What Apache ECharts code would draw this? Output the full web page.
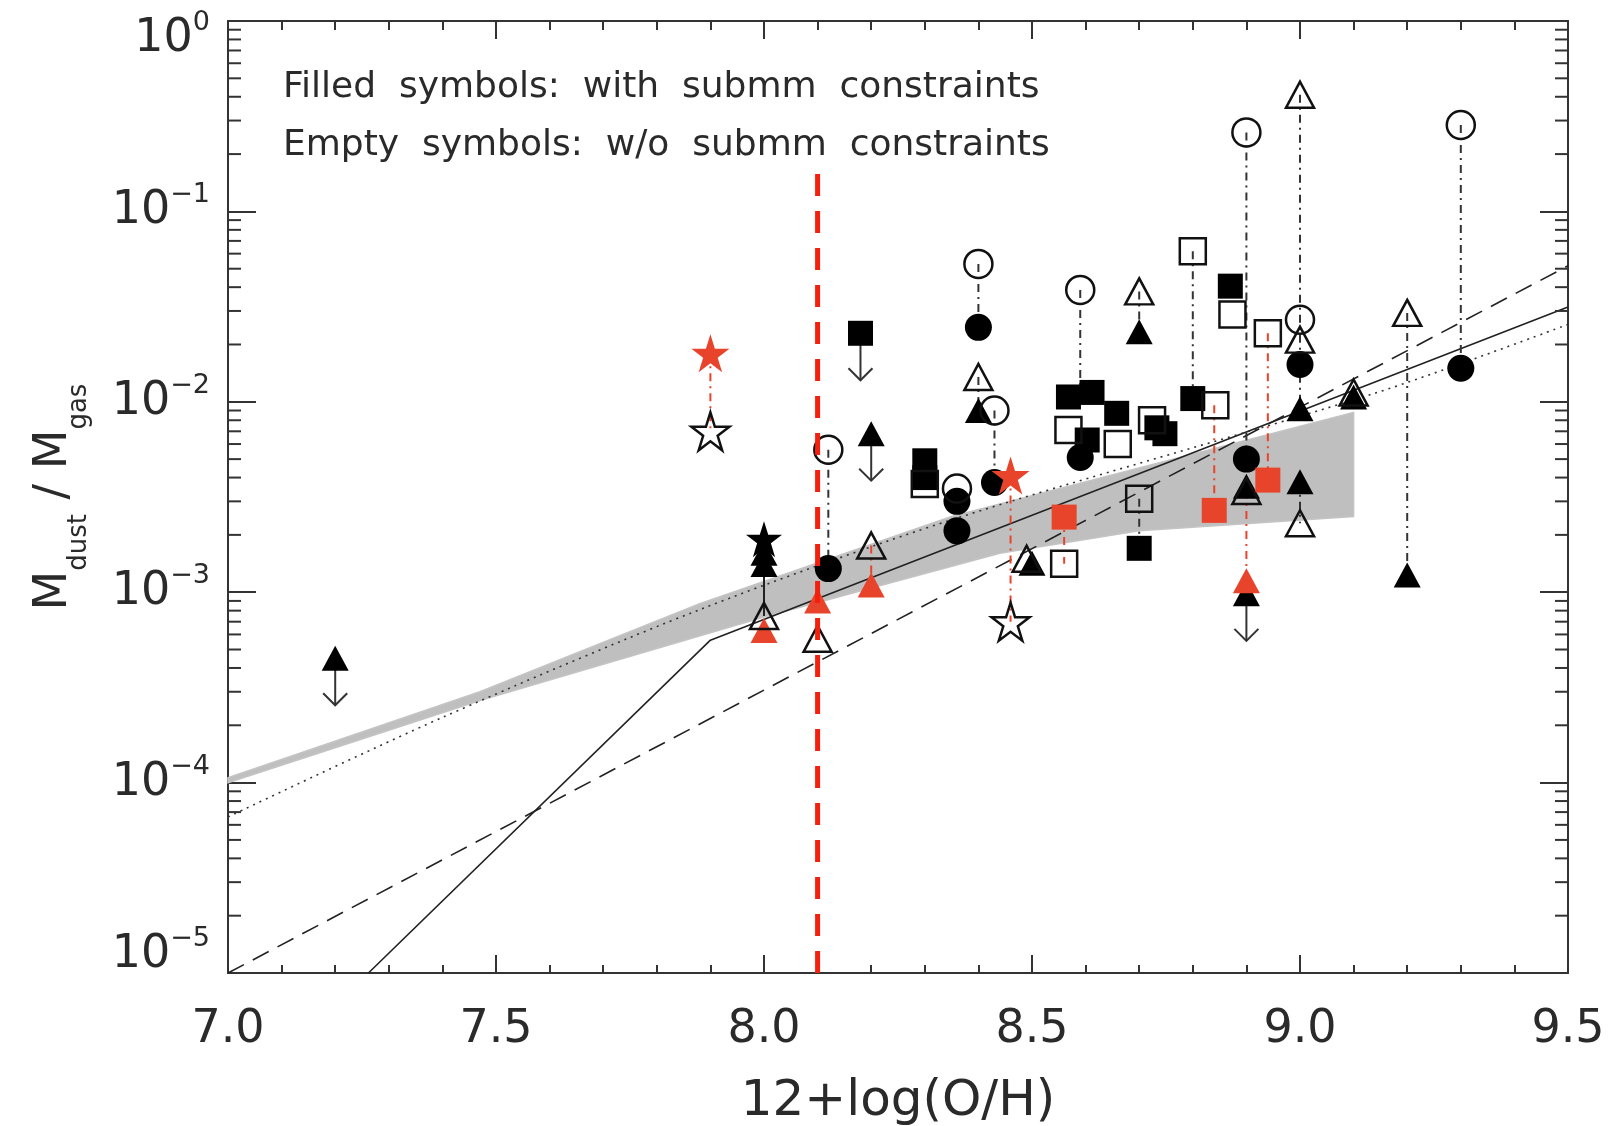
<!DOCTYPE html>
<html><head><meta charset="utf-8">
<script src="https://cdn.jsdelivr.net/npm/echarts@6/dist/echarts.min.js"></script>
<style>html,body{margin:0;padding:0;background:#fff}#c{width:1614px;height:1126px}</style>
</head><body><div id="c"></div>
<script>
// ---------- data ----------
const xTickLabels = ['7.0', '7.5', '8.0', '8.5', '9.0', '9.5'];
const yTickExponents = ['0', '\u22121', '\u22122', '\u22123', '\u22124', '\u22125'];

const filledCircles = [[8.12,0.00133],[8.40,0.0246],[8.43,0.00377],[8.36,0.0030],[8.36,0.0021],[8.59,0.0051],[8.90,0.0050],[9.00,0.0157],[9.30,0.0150]];
const emptyCircles  = [[8.12,0.0056],[8.40,0.053],[8.43,0.0090],[8.36,0.0035],[8.59,0.0387],[8.90,0.26],[9.00,0.027],[9.30,0.284]];
const filledSquares = [[8.18,0.0229],[8.30,0.0049],[8.30,0.0040],[8.568,0.0106],[8.612,0.0112],[8.658,0.0087],[8.603,0.0063],[8.733,0.0073],[8.748,0.0068],[8.70,0.0017],[8.80,0.0104],[8.87,0.0405]];
const emptySquares  = [[8.30,0.0037],[8.56,0.00141],[8.568,0.0071],[8.66,0.0060],[8.724,0.0080],[8.70,0.0031],[8.80,0.0618],[8.842,0.0096],[8.874,0.0287],[8.94,0.0229]];
const filledTriangles = [[7.20,0.00045],[8.00,0.0016],[8.00,0.0014],[8.20,0.0068],[8.40,0.0090],[8.50,0.00142],[8.70,0.0233],[8.90,0.0036],[8.90,0.00098],[9.00,0.0092],[9.00,0.0038],[9.10,0.0106],[9.20,0.00123]];
const emptyTriangles  = [[8.00,0.00075],[8.10,0.00057],[8.20,0.00176],[8.40,0.0135],[8.49,0.0015],[8.70,0.0380],[8.90,0.0034],[9.00,0.41],[9.00,0.0212],[9.00,0.0023],[9.10,0.0112],[9.20,0.0293]];
const filledStars = [[8.00,0.0019]];
const emptyStars  = [[7.90,0.0070],[8.46,0.00070]];
const redStars     = [[7.90,0.018],[8.46,0.0041]];
const redTriangles = [[8.00,0.00063],[8.10,0.00090],[8.20,0.00109],[8.90,0.00115]];
const redSquares   = [[8.56,0.00248],[8.84,0.00269],[8.94,0.00388]];

// links between the same object with / without submm: [x, y1, y2]
const blackLinks = [[8.12,0.0056,0.00133],[8.40,0.053,0.0246],[8.40,0.0135,0.0090],[8.43,0.0090,0.00377],[8.59,0.0387,0.0112],[8.70,0.0380,0.0233],[8.70,0.0031,0.0017],[8.80,0.0618,0.0104],[8.90,0.26,0.0050],[9.00,0.41,0.0092],[9.00,0.0038,0.0023],[9.20,0.0293,0.00123],[9.30,0.284,0.0150]];
const redLinks   = [[7.90,0.018,0.0070],[8.46,0.0041,0.00070],[8.20,0.00176,0.00109],[8.56,0.00248,0.00141],[8.84,0.0096,0.00269],[8.94,0.0229,0.00388],[8.90,0.0034,0.00115]];
const solidLinks = [[8.00,0.0019,0.00075]];

// upper limits (down arrows)
const upperLimits = [[7.20,0.00045],[8.18,0.0229],[8.20,0.0068],[8.90,0.00098]];

// model curves
const solidModelX = [7.262, 7.90, 9.50];
const solidModelY = [1e-5, 5.6e-4, 0.0315];
const dashedModelX = [7.00, 9.50];
const dashedModelY = [1e-5, 0.0518];
const dottedModelX = [7.00, 7.40, 7.88, 8.35, 9.14, 9.50];
const dottedModelY = [6.6e-5, 2.2e-4, 8.1e-4, 2.4e-3, 0.0111, 0.0255];
const bandTopX = [7.00, 7.47, 7.88, 8.35, 9.10];
const bandTopY = [1.06e-4, 3.0e-4, 8.7e-4, 2.5e-3, 8.8e-3];
const bandBottomX = [7.00, 7.47, 8.00, 8.44, 8.70, 9.10];
const bandBottomY = [1.0e-4, 2.7e-4, 7.4e-4, 1.6e-3, 2.1e-3, 2.5e-3];

const thresholdX = 8.1;
const thresholdTop = 0.18;

// ---------- chart ----------
const FONT = 'DejaVu Sans';
const INK = '#2a2a2a';
const RED = '#e8442c';
const STAR = 'path://M50,0 L61.2,34.5 L97.6,34.5 L68.2,55.9 L79.4,90.5 L50,69.1 L20.6,90.5 L31.8,55.9 L2.4,34.5 L38.8,34.5 Z';

const zip = (xs, ys) => xs.map((x, i) => [x, ys[i]]);

const yMinor = [];
for (let d = -5; d < 0; d++) for (let k = 2; k <= 9; k++) yMinor.push([7, k * Math.pow(10, d)]);

function scatter(data, symbol, size, filled, color, z) {
  return {
    type: 'scatter', data, symbol, symbolSize: size, z, silent: true,
    itemStyle: filled ? { color: color, opacity: 1 }
                      : { color: 'rgba(0,0,0,0)', borderColor: color, borderWidth: 2.5, opacity: 1 },
    emphasis: { disabled: true }
  };
}

function linkSeries(data, color, dash, z) {
  return {
    type: 'custom', data, z, silent: true,
    encode: { x: 0, y: [1, 2] },
    renderItem: function (params, api) {
      const a = api.coord([api.value(0), api.value(1)]);
      const b = api.coord([api.value(0), api.value(2)]);
      return { type: 'line', shape: { x1: a[0], y1: a[1], x2: b[0], y2: b[1] },
               style: { stroke: color, lineWidth: 2, lineDash: dash } };
    }
  };
}

function yLabel(v) {
  const e = Math.round(Math.log10(v));
  const main = '{b|10}{s|' + yTickExponents[-e] + '}';
  if (e === 0) return '{e| }\n' + main;
  if (e === -5) return main + '\n{e| }';
  return main;
}

const chart = echarts.init(document.getElementById('c'), null, { renderer: 'canvas' });
chart.setOption({
  animation: false,
  backgroundColor: '#fff',
  grid: { left: 228, right: 46, top: 21, bottom: 153, containLabel: false, outerBoundsMode: 'none' },
  xAxis: [{
    type: 'value', min: 7, max: 9.5, interval: 0.5, position: 'bottom',
    name: '12+log(O/H)', nameLocation: 'middle', nameGap: 104, nameMoveOverlap: false,
    nameTextStyle: { fontFamily: FONT, fontSize: 50, color: INK },
    axisLine: { show: true, onZero: false, lineStyle: { color: '#333', width: 2 } },
    axisTick: { show: true, inside: true, length: 18, lineStyle: { color: '#333', width: 2 } },
    minorTick: { show: true, splitNumber: 5, length: 8, lineStyle: { color: '#333', width: 2 } },
    splitLine: { show: false },
    axisLabel: { margin: 34, fontFamily: FONT, fontSize: 46, color: INK, showMinLabel: true, showMaxLabel: true,
                 formatter: v => xTickLabels[Math.round((v - 7) / 0.5)] }
  }, {
    type: 'value', min: 7, max: 9.5, interval: 0.5, position: 'top',
    axisLine: { show: true, onZero: false, lineStyle: { color: '#333', width: 2 } },
    axisTick: { show: true, inside: true, length: 18, lineStyle: { color: '#333', width: 2 } },
    minorTick: { show: true, splitNumber: 5, length: 9, lineStyle: { color: '#333', width: 2 } },
    splitLine: { show: false }, axisLabel: { show: false }
  }],
  yAxis: [{
    type: 'log', logBase: 10, min: 1e-5, max: 1, interval: 1, position: 'left',
    axisLine: { show: true, onZero: false, lineStyle: { color: '#333', width: 2 } },
    axisTick: { show: true, inside: true, length: 28, lineStyle: { color: '#333', width: 2 } },
    minorTick: { show: false }, splitLine: { show: false },
    axisLabel: { margin: 18, formatter: yLabel, rich: {
      b: { fontFamily: FONT, fontSize: 46, lineHeight: 46, color: INK, verticalAlign: 'middle' },
      s: { fontFamily: FONT, fontSize: 27, color: INK, padding: [0, 0, 32, 0], verticalAlign: 'middle' },
      e: { fontSize: 10, lineHeight: 36 } } }
  }, {
    type: 'log', logBase: 10, min: 1e-5, max: 1, interval: 1, position: 'right',
    axisLine: { show: true, onZero: false, lineStyle: { color: '#333', width: 2 } },
    axisTick: { show: true, inside: true, length: 28, lineStyle: { color: '#333', width: 2 } },
    minorTick: { show: false }, splitLine: { show: false }, axisLabel: { show: false }
  }],
  graphic: [
    { type: 'text', x: 283, y: 88, z: 100, style: { text: 'Filled  symbols:  with  submm  constraints', fontFamily: FONT, fontSize: 36, fill: INK, verticalAlign: 'middle' } },
    { type: 'text', x: 283, y: 146, z: 100, style: { text: 'Empty  symbols:  w/o  submm  constraints', fontFamily: FONT, fontSize: 36, fill: INK, verticalAlign: 'middle' } },
    { type: 'text', x: 54, y: 497, rotation: Math.PI / 2, z: 100,
      style: { text: '{m|M}{s|dust}{m| / M}{s|gas}', align: 'center', verticalAlign: 'middle',
        rich: {
          m: { fontFamily: FONT, fontSize: 46, lineHeight: 56, fill: INK, color: INK, verticalAlign: 'middle' },
          s: { fontFamily: FONT, fontSize: 26, fill: INK, color: INK, padding: [50, 0, 0, 0], verticalAlign: 'middle' } } } }
  ],
  series: [
    // y minor ticks (left and right)
    { type: 'custom', data: yMinor, z: 10, silent: true, clip: false,
      renderItem: function (params, api) {
        const p = api.coord([7, api.value(1)]);
        const q = api.coord([9.5, api.value(1)]);
        return { type: 'group', children: [
          { type: 'line', shape: { x1: p[0], y1: p[1], x2: p[0] + 13, y2: p[1] }, style: { stroke: '#333', lineWidth: 2 } },
          { type: 'line', shape: { x1: q[0] - 13, y1: q[1], x2: q[0], y2: q[1] }, style: { stroke: '#333', lineWidth: 2 } } ] };
      } },
    // grey band
    { type: 'custom', data: [[bandTopX[0], bandTopY[0]]], z: 1, silent: true,
      renderItem: function (params, api) {
        const pts = [];
        for (let i = 0; i < bandTopX.length; i++) pts.push(api.coord([bandTopX[i], bandTopY[i]]));
        for (let i = bandBottomX.length - 1; i >= 0; i--) pts.push(api.coord([bandBottomX[i], bandBottomY[i]]));
        return { type: 'polygon', shape: { points: pts }, style: { fill: '#bfbfbf', stroke: '#c4c4c4', lineWidth: 1.5 } };
      } },
    // model lines
    { type: 'line', data: zip(solidModelX, solidModelY), showSymbol: false, symbol: 'none', z: 2, silent: true,
      lineStyle: { color: '#222', width: 1.6, type: 'solid' } },
    { type: 'line', data: zip(dashedModelX, dashedModelY), showSymbol: false, symbol: 'none', z: 2, silent: true,
      lineStyle: { color: '#222', width: 1.6, type: [18, 10] } },
    { type: 'line', data: zip(dottedModelX, dottedModelY), showSymbol: false, symbol: 'none', z: 2, silent: true, smooth: 0.3,
      lineStyle: { color: '#333', width: 1.6, type: [2, 5] } },
    // links
    linkSeries(blackLinks, '#333', [8, 5, 2, 5], 3),
    linkSeries(redLinks, RED, [8, 5, 2, 5], 3),
    linkSeries(solidLinks, '#222', null, 3),
    // upper-limit arrows
    { type: 'custom', data: upperLimits, z: 3, silent: true, encode: { x: 0, y: 1 },
      renderItem: function (params, api) {
        const p = api.coord([api.value(0), api.value(1)]);
        const tip = p[1] + 47;
        return { type: 'group', children: [
          { type: 'line', shape: { x1: p[0], y1: p[1], x2: p[0], y2: tip }, style: { stroke: '#333', lineWidth: 2 } },
          { type: 'polyline', shape: { points: [[p[0] - 12, tip - 12], [p[0], tip], [p[0] + 12, tip - 12]] }, style: { stroke: '#333', lineWidth: 2, fill: null } } ] };
      } },
    // symbols
    scatter(filledCircles, 'circle', 27, true, '#000', 4),
    scatter(filledSquares, 'rect', 25, true, '#000', 4),
    scatter(filledTriangles, 'triangle', [27, 25], true, '#000', 4),
    scatter(filledStars, STAR, 36, true, '#000', 4),
    scatter(redStars, STAR, 38, true, RED, 4),
    scatter(redTriangles, 'triangle', [27, 25], true, RED, 4),
    scatter(redSquares, 'rect', 25, true, RED, 4),
    scatter(emptyCircles, 'circle', 28, false, '#111', 5),
    scatter(emptySquares, 'rect', 26, false, '#111', 5),
    scatter(emptyTriangles, 'triangle', [28, 26], false, '#111', 5),
    scatter(emptyStars, STAR, 38, false, '#111', 5),
    // threshold line
    { type: 'line', data: [[thresholdX, 1e-5], [thresholdX, thresholdTop]], showSymbol: false, symbol: 'none', z: 6, silent: true,
      lineStyle: { color: '#f2200c', width: 5, type: [22, 15] } }
  ]
});
</script></body></html>
